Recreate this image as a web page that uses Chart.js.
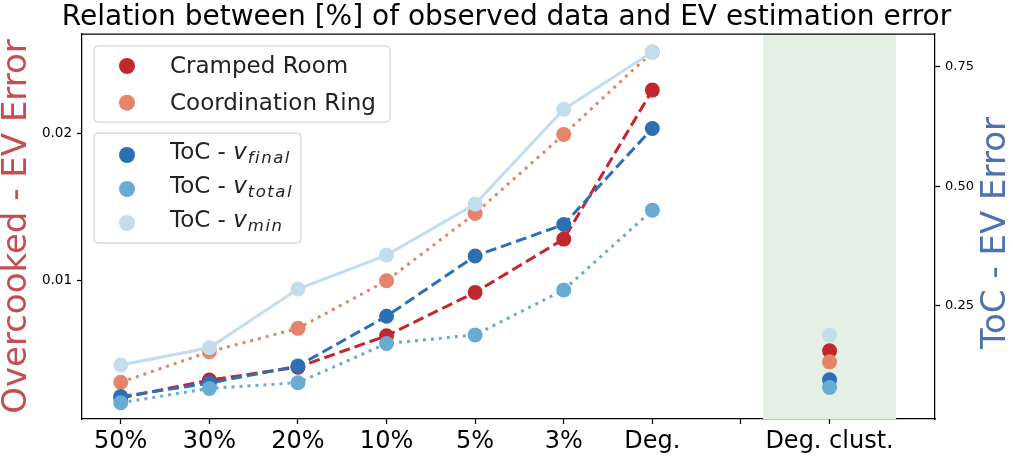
<!DOCTYPE html>
<html>
<head>
<meta charset="utf-8">
<script src="https://cdn.jsdelivr.net/npm/chart.js@4/dist/chart.umd.min.js"></script>
<style>
html, body { margin: 0; padding: 0; background: #fff; }
#wrap { width: 1013px; height: 456px; }
</style>
</head>
<body>
<div id="wrap"><canvas id="chart" width="1013" height="456"></canvas></div>
<script>
// data
const categories = ['50%', '30%', '20%', '10%', '5%', '3%', 'Deg.', '', 'Deg. clust.'];
const crampedRoom = [0.00204, 0.00326, 0.00414, 0.00627, 0.00921, 0.01283, 0.02294, null, 0.00525];
const coordRing = [0.00311, 0.00518, 0.00677, 0.0100, 0.01457, 0.01993, 0.02552, null, 0.0045];
const tocFinal = [0.060, 0.088, 0.124, 0.228, 0.354, 0.420, 0.621, null, 0.095];
const tocTotal = [0.047, 0.077, 0.089, 0.171, 0.189, 0.283, 0.450, null, 0.079];
const tocMin = [0.126, 0.162, 0.285, 0.356, 0.463, 0.661, 0.781, null, 0.189];
const leftTicks = [0.01, 0.02];
const rightTicks = [0.25, 0.50, 0.75];
const clusterBand = [7.25, 8.75];

const FONT = "'DejaVu Sans', sans-serif";
Chart.defaults.font.family = FONT;
Chart.defaults.color = '#000';

function toPoints(values) {
    return values.map((v, i) => ({ x: i, y: v }));
}

function makeSet(label, values, color, dash, axis, order) {
    return {
        label: label,
        data: toPoints(values),
        yAxisID: axis,
        borderColor: color,
        backgroundColor: color,
        borderWidth: 3,
        borderDash: dash,
        pointRadius: 7.5,
        pointHoverRadius: 7.5,
        pointBorderWidth: 0,
        pointBackgroundColor: color,
        tension: 0,
        order: order
    };
}

const datasets = [
    makeSet('Cramped Room', crampedRoom, '#c1272d', [11, 5], 'y', 5),
    makeSet('Coordination Ring', coordRing, '#e6846a', [3, 5], 'y', 4),
    makeSet('ToC - v_final', tocFinal, '#2c6fb5', [11, 5], 'y2', 3),
    makeSet('ToC - v_total', tocTotal, '#68abd3', [3, 5], 'y2', 2),
    makeSet('ToC - v_min', tocMin, '#c2ddec', [], 'y2', 1)
];

const decor = {
    id: 'decor',
    beforeDatasetsDraw(chart) {
        const ctx = chart.ctx;
        const area = chart.chartArea;
        const x = chart.scales.x;
        const x0 = x.getPixelForValue(clusterBand[0]);
        const x1 = x.getPixelForValue(clusterBand[1]);
        ctx.save();
        ctx.fillStyle = '#e5f0e5';
        ctx.fillRect(x0, area.top, x1 - x0, area.bottom - area.top);
        ctx.restore();
    },
    afterDraw(chart) {
        const ctx = chart.ctx;
        const area = chart.chartArea;
        ctx.save();
        // top frame line
        ctx.strokeStyle = '#000';
        ctx.lineWidth = 1.25;
        ctx.beginPath();
        ctx.moveTo(area.left, area.top);
        ctx.lineTo(area.right, area.top);
        ctx.stroke();

        // right axis title, reading upwards
        ctx.translate(996, 233);
        ctx.rotate(-Math.PI / 2);
        ctx.fillStyle = '#4c72b0';
        ctx.font = '34px ' + FONT;
        ctx.textAlign = 'center';
        ctx.textBaseline = 'middle';
        ctx.fillText('ToC - EV Error', 0, 0);
        ctx.restore();

        drawLegendBox(ctx, 94, 46, 296, 76, [0, 1], [66, 102.7], chart);
        drawLegendBox(ctx, 94, 133, 207, 110, [2, 3, 4], [155, 189, 223], chart);
    }
};

function drawLegendBox(ctx, x, y, w, h, idx, rows, chart) {
    ctx.save();
    ctx.beginPath();
    ctx.roundRect(x, y, w, h, 4);
    ctx.fillStyle = 'rgba(255,255,255,0.8)';
    ctx.fill();
    ctx.strokeStyle = '#cccccc';
    ctx.lineWidth = 1;
    ctx.stroke();

    idx.forEach((d, k) => {
        const ds = chart.data.datasets[d];
        const cy = rows[k];
        ctx.beginPath();
        ctx.arc(127, cy, 8, 0, Math.PI * 2);
        ctx.fillStyle = ds.borderColor;
        ctx.fill();

        ctx.fillStyle = '#222';
        ctx.textAlign = 'left';
        ctx.textBaseline = 'alphabetic';
        const parts = ds.label.split('_');
        if (parts.length === 1) {
            ctx.font = '23px ' + FONT;
            ctx.fillText(parts[0], 170, cy + 7.4);
        } else {
            const base = cy + 4.3;
            const main = parts[0].slice(0, -1);
            const sym = parts[0].slice(-1);
            ctx.font = '23px ' + FONT;
            ctx.fillText(main, 170, base);
            let tx = 170 + ctx.measureText(main).width;
            ctx.font = 'italic 23px ' + FONT;
            ctx.fillText(sym, tx, base);
            tx += ctx.measureText(sym).width + 1;
            ctx.font = 'italic 16.5px ' + FONT;
            ctx.letterSpacing = '1.5px';
            ctx.fillText(parts[1], tx, base + 3.5);
            ctx.letterSpacing = '0px';
        }
    });
    ctx.restore();
}

new Chart(document.getElementById('chart'), {
    type: 'line',
    data: { datasets: datasets },
    options: {
        responsive: false,
        animation: false,
        devicePixelRatio: 1,
        layout: { padding: 0 },
        plugins: {
            legend: { display: false },
            tooltip: { enabled: false },
            title: {
                display: true,
                text: 'Relation between [%] of observed data and EV estimation error',
                font: { size: 28, weight: 'normal' },
                color: '#000',
                padding: { top: 0.5, bottom: 0 }
            }
        },
        scales: {
            x: {
                type: 'linear',
                min: -0.437,
                max: 9.19,
                afterBuildTicks: s => { s.ticks = categories.map((c, i) => ({ value: i })); },
                afterFit: s => { s.height = 37; },
                ticks: {
                    callback: v => categories[v],
                    font: { size: 24 },
                    color: '#000',
                    padding: 3,
                    maxRotation: 0,
                    autoSkip: false
                },
                grid: { drawOnChartArea: false, tickLength: 5, tickColor: '#000', tickWidth: 1.25 },
                border: { color: '#000', width: 1.25 }
            },
            y: {
                position: 'left',
                min: 0.00062,
                max: 0.02674,
                afterBuildTicks: s => { s.ticks = leftTicks.map(v => ({ value: v })); },
                afterFit: s => { s.width = 82; },
                ticks: {
                    callback: v => v.toFixed(2),
                    font: { size: 13.5 },
                    color: '#000',
                    padding: 5
                },
                grid: { drawOnChartArea: false, tickLength: 5, tickColor: '#000', tickWidth: 1.25 },
                border: { color: '#000', width: 1.25 },
                title: {
                    display: true,
                    text: 'Overcooked - EV Error',
                    color: '#c44e52',
                    font: { size: 34, lineHeight: 1 },
                    padding: 0
                }
            },
            y2: {
                position: 'right',
                min: 0.013,
                max: 0.8184,
                afterBuildTicks: s => { s.ticks = rightTicks.map(v => ({ value: v })); },
                afterFit: s => { s.width = 78; },
                ticks: {
                    callback: v => v.toFixed(2),
                    font: { size: 13 },
                    color: '#000',
                    padding: 5
                },
                grid: { drawOnChartArea: false, tickLength: 5, tickColor: '#000', tickWidth: 1.25 },
                border: { color: '#000', width: 1.25 }
            }
        }
    },
    plugins: [decor]
});
</script>
</body>
</html>
